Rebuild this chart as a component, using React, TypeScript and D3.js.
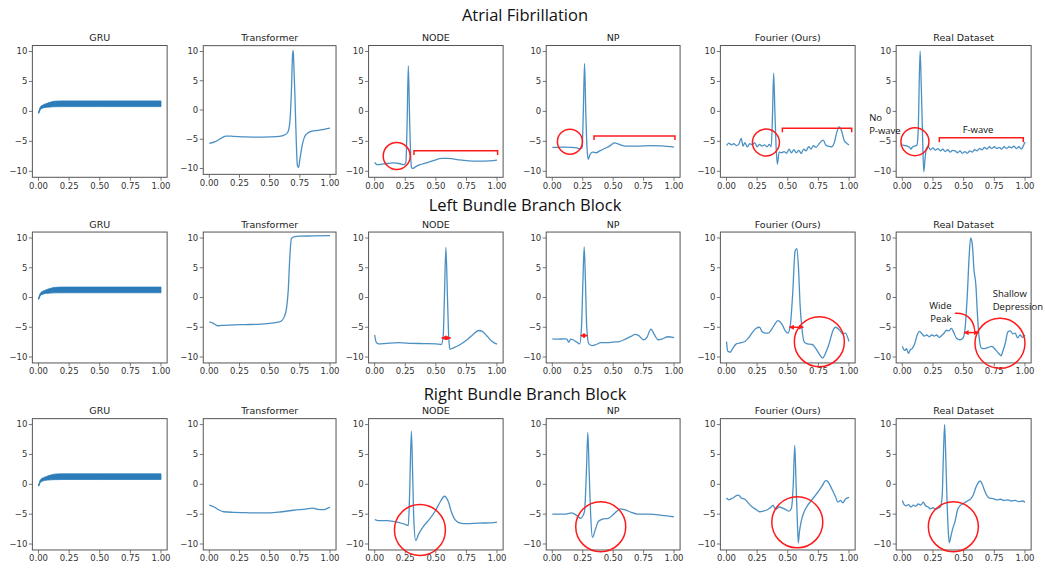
import React from 'react';
import * as d3 from 'd3';

type Pt = [number, number];

const rowTitles = ['Atrial Fibrillation', 'Left Bundle Branch Block', 'Right Bundle Branch Block'];
const modelNames = ['GRU', 'Transformer', 'NODE', 'NP', 'Fourier (Ours)', 'Real Dataset'];
const xTicks = [0, 0.25, 0.5, 0.75, 1];
const yTicks = [-10, -5, 0, 5, 10];

// GRU collapses to the same dense band in all three rows
const gruUpper: Pt[] = [[0, -0.3], [0.01, 0.5], [0.02, 0.85], [0.04, 1.1], [0.07, 1.35], [0.1, 1.55], [0.13, 1.7], [0.2, 1.75], [0.5, 1.75], [1, 1.75]];
const gruLower: Pt[] = [[0, -0.3], [0.01, 0.2], [0.02, 0.5], [0.04, 0.62], [0.07, 0.7], [0.1, 0.75], [0.13, 0.78], [0.2, 0.8], [0.5, 0.8], [1, 0.8]];

// Atrial fibrillation
const afTransformer: Pt[] = [[0, -5.7], [0.05, -5.4], [0.1, -4.8], [0.14, -4.45], [0.2, -4.5], [0.3, -4.6], [0.4, -4.65], [0.5, -4.6], [0.58, -4.5], [0.62, -4.3], [0.65, -3.8], [0.665, -2.5], [0.68, 3], [0.69, 9.5], [0.695, 10.2], [0.7, 8], [0.71, 2], [0.72, -5], [0.73, -9.5], [0.74, -9.8], [0.75, -8.5], [0.77, -6], [0.8, -4.2], [0.85, -3.6], [0.9, -3.5], [0.95, -3.3], [1, -3.1]];
const afNode: Pt[] = [[0, -8.5], [0.02, -8.9], [0.05, -8.85], [0.1, -8.7], [0.15, -8.6], [0.2, -8.7], [0.24, -8.9], [0.255, -8.5], [0.265, -2], [0.275, 7.6], [0.285, -1], [0.3, -9.3], [0.31, -9.55], [0.33, -9.3], [0.37, -8.9], [0.42, -8.6], [0.48, -8.2], [0.55, -7.85], [0.6, -7.85], [0.7, -8.1], [0.8, -8.3], [0.9, -8.3], [1, -8.15]];
const afNp: Pt[] = [[0, -6.0], [0.05, -6.0], [0.1, -5.95], [0.15, -6.0], [0.2, -6.1], [0.23, -6.25], [0.245, -6.0], [0.255, 0], [0.265, 8.0], [0.275, 0], [0.285, -6], [0.295, -8.0], [0.31, -7.2], [0.33, -6.8], [0.36, -6.9], [0.39, -6.6], [0.43, -6.2], [0.47, -5.8], [0.51, -5.25], [0.55, -5.5], [0.6, -5.8], [0.7, -5.8], [0.8, -5.7], [0.9, -5.75], [1, -5.95]];
const afFourier: Pt[] = [[0, -5.7], [0.02, -5.3], [0.04, -5.6], [0.06, -5.4], [0.08, -5.7], [0.1, -5.5], [0.12, -4.5], [0.135, -5.8], [0.15, -5.2], [0.17, -5.9], [0.19, -5.4], [0.21, -5.6], [0.23, -5.2], [0.25, -5.9], [0.27, -5.5], [0.29, -5.8], [0.31, -5.6], [0.33, -5.9], [0.35, -5.5], [0.365, -5.9], [0.375, -1], [0.385, 6.4], [0.395, 0], [0.405, -6], [0.415, -8.8], [0.43, -6.8], [0.45, -6.9], [0.47, -6.7], [0.49, -7.0], [0.51, -6.3], [0.53, -6.9], [0.55, -6.4], [0.57, -6.9], [0.59, -6.5], [0.61, -7.0], [0.63, -6.3], [0.65, -6.6], [0.67, -5.9], [0.69, -6.3], [0.71, -5.7], [0.73, -6.0], [0.76, -5.3], [0.79, -4.8], [0.81, -5.6], [0.83, -5.8], [0.86, -5.9], [0.88, -5.2], [0.9, -3.5], [0.92, -2.6], [0.94, -3.3], [0.96, -4.8], [0.98, -5.3], [1, -5.6]];
const afReal: Pt[] = [[0, -5.6], [0.02, -5.7], [0.04, -5.8], [0.06, -6.0], [0.07, -6.3], [0.085, -5.9], [0.1, -5.8], [0.12, -5.6], [0.13, -3], [0.145, 10.1], [0.155, 4], [0.165, -4], [0.175, -10.1], [0.185, -8], [0.195, -6.2], [0.21, -5.9], [0.23, -6.4], [0.25, -6.1], [0.27, -6.5], [0.29, -6.2], [0.31, -6.6], [0.33, -6.3], [0.35, -6.7], [0.37, -6.4], [0.39, -6.8], [0.41, -6.5], [0.43, -6.6], [0.45, -6.9], [0.47, -6.6], [0.49, -7.0], [0.51, -6.7], [0.53, -7.0], [0.55, -6.6], [0.57, -6.8], [0.59, -6.4], [0.61, -6.6], [0.63, -6.2], [0.65, -6.4], [0.67, -6.0], [0.69, -6.3], [0.71, -5.9], [0.73, -6.2], [0.75, -5.9], [0.77, -6.2], [0.79, -6.0], [0.81, -6.3], [0.83, -5.9], [0.85, -6.2], [0.87, -5.9], [0.89, -6.1], [0.91, -5.8], [0.93, -6.2], [0.95, -5.9], [0.97, -6.3], [0.985, -5.8], [1, -5.1]];

// Left bundle branch block
const lbbbTransformer: Pt[] = [[0, -4.1], [0.03, -4.3], [0.07, -4.75], [0.1, -4.7], [0.2, -4.6], [0.3, -4.55], [0.4, -4.5], [0.5, -4.35], [0.57, -4.15], [0.6, -3.9], [0.62, -3.3], [0.64, -1.8], [0.655, 1.5], [0.665, 6], [0.68, 9.9], [0.7, 10.2], [0.75, 10.3], [0.85, 10.35], [1, 10.4]];
const lbbbNode: Pt[] = [[0, -6.3], [0.012, -7.5], [0.03, -7.8], [0.1, -7.7], [0.2, -7.6], [0.3, -7.7], [0.4, -7.75], [0.5, -7.8], [0.545, -7.9], [0.56, -6.5], [0.57, 0], [0.582, 8.4], [0.595, 0], [0.605, -6.5], [0.615, -8.7], [0.64, -8.5], [0.7, -7.9], [0.75, -7.2], [0.8, -6.3], [0.85, -5.55], [0.88, -5.7], [0.92, -6.5], [0.96, -7.4], [1, -7.85]];
const lbbbNp: Pt[] = [[0, -6.95], [0.05, -7.0], [0.1, -6.95], [0.12, -7.0], [0.135, -7.5], [0.15, -7.0], [0.17, -7.1], [0.2, -7.5], [0.225, -7.8], [0.24, -5], [0.252, 3], [0.262, 8.5], [0.272, 3], [0.283, -5], [0.3, -7.8], [0.33, -8.1], [0.36, -7.9], [0.4, -7.6], [0.45, -7.6], [0.5, -7.5], [0.55, -7.4], [0.6, -7.0], [0.65, -6.5], [0.68, -6.2], [0.71, -6.4], [0.75, -7.1], [0.78, -6.6], [0.81, -5.3], [0.84, -6.3], [0.87, -7.1], [0.9, -7.0], [0.95, -6.6], [1, -6.75]];
const lbbbFourier: Pt[] = [[0, -7.4], [0.01, -9.0], [0.03, -9.2], [0.05, -8.6], [0.08, -7.8], [0.12, -7.6], [0.15, -7.4], [0.18, -6.8], [0.21, -5.9], [0.24, -5.2], [0.27, -5.0], [0.29, -5.7], [0.32, -6.0], [0.34, -6.0], [0.37, -5.3], [0.4, -4.3], [0.42, -3.9], [0.45, -4.4], [0.48, -5.6], [0.5, -6.0], [0.52, -4.8], [0.54, 0.5], [0.56, 7.8], [0.575, 8.2], [0.59, 4], [0.6, -1], [0.615, -5], [0.635, -7.5], [0.66, -7.8], [0.7, -7.9], [0.73, -8.6], [0.76, -9.6], [0.785, -10.2], [0.81, -9.3], [0.84, -7.6], [0.87, -5.5], [0.89, -5.0], [0.92, -5.4], [0.95, -6.1], [0.97, -6.0], [1, -7.4]];
const lbbbReal: Pt[] = [[0, -8.2], [0.02, -8.9], [0.035, -8.6], [0.05, -9.4], [0.065, -8.8], [0.08, -8.6], [0.1, -7.8], [0.12, -6.4], [0.14, -5.7], [0.16, -6.1], [0.18, -6.5], [0.2, -6.3], [0.22, -6.6], [0.24, -6.3], [0.26, -6.5], [0.28, -6.3], [0.3, -6.7], [0.32, -6.4], [0.34, -6.0], [0.36, -5.5], [0.38, -5.6], [0.4, -5.2], [0.42, -5.9], [0.44, -6.8], [0.47, -7.1], [0.495, -6.8], [0.51, -5.5], [0.53, 0.5], [0.545, 7], [0.557, 10], [0.57, 9], [0.585, 4.5], [0.6, 2], [0.61, -2], [0.625, -6.5], [0.645, -8.5], [0.67, -8.6], [0.7, -8.4], [0.73, -8.2], [0.76, -8.8], [0.79, -9.5], [0.805, -9.8], [0.82, -9.0], [0.84, -7.6], [0.86, -5.8], [0.88, -5.6], [0.9, -6.1], [0.92, -6.0], [0.94, -6.8], [0.96, -6.3], [0.98, -6.7], [1, -6.3]];

// Right bundle branch block
const rbbbTransformer: Pt[] = [[0, -3.5], [0.04, -3.8], [0.08, -4.3], [0.12, -4.6], [0.2, -4.7], [0.3, -4.75], [0.4, -4.8], [0.5, -4.8], [0.6, -4.6], [0.7, -4.35], [0.8, -4.15], [0.86, -4.0], [0.9, -4.2], [0.94, -4.25], [0.97, -4.1], [1, -3.8]];
const rbbbNode: Pt[] = [[0, -5.9], [0.03, -6.1], [0.1, -6.1], [0.15, -6.2], [0.2, -6.4], [0.25, -6.7], [0.275, -6.9], [0.285, -2], [0.3, 8.9], [0.31, 2], [0.32, -6], [0.335, -9.4], [0.36, -8.3], [0.4, -7.0], [0.45, -5.8], [0.5, -4.3], [0.54, -2.8], [0.57, -2.0], [0.6, -2.8], [0.63, -4.8], [0.66, -6.0], [0.7, -6.5], [0.75, -6.6], [0.85, -6.5], [0.95, -6.45], [1, -6.35]];
const rbbbNp: Pt[] = [[0, -5.0], [0.05, -5.0], [0.1, -5.0], [0.16, -4.8], [0.2, -5.2], [0.235, -5.7], [0.25, -5.3], [0.265, -4.5], [0.28, 2], [0.292, 8.7], [0.303, 2], [0.315, -5], [0.33, -8.9], [0.35, -7.8], [0.38, -6.2], [0.42, -5.8], [0.46, -5.7], [0.5, -5.1], [0.53, -4.5], [0.56, -4.1], [0.6, -4.3], [0.65, -4.7], [0.7, -5.0], [0.8, -5.0], [0.9, -5.2], [1, -5.45]];
const rbbbFourier: Pt[] = [[0, -2.3], [0.02, -2.6], [0.04, -2.4], [0.06, -2.2], [0.08, -1.9], [0.1, -1.8], [0.12, -2.3], [0.15, -2.5], [0.18, -3.2], [0.21, -3.8], [0.24, -4.2], [0.27, -4.6], [0.3, -4.5], [0.33, -4.3], [0.36, -3.9], [0.38, -3.5], [0.4, -4.2], [0.43, -3.8], [0.46, -4.0], [0.49, -4.3], [0.51, -4.5], [0.53, -4.0], [0.545, 0], [0.557, 6.5], [0.568, 0], [0.578, -6], [0.586, -9.8], [0.595, -8], [0.61, -6.2], [0.63, -4.8], [0.66, -3.6], [0.69, -2.8], [0.72, -2.0], [0.75, -1.2], [0.78, -0.3], [0.81, 0.6], [0.83, 0.4], [0.86, -0.8], [0.89, -2.1], [0.91, -3.0], [0.93, -2.7], [0.95, -3.1], [0.97, -2.5], [1, -2.2]];
const rbbbReal: Pt[] = [[0, -2.7], [0.015, -3.4], [0.03, -3.6], [0.05, -3.4], [0.07, -3.8], [0.09, -3.5], [0.11, -3.7], [0.13, -3.3], [0.15, -3.5], [0.17, -3.0], [0.19, -3.6], [0.21, -3.8], [0.23, -4.1], [0.25, -3.9], [0.27, -4.2], [0.29, -4.0], [0.31, -3.8], [0.325, -2], [0.335, 5], [0.345, 10], [0.355, 4], [0.365, -3], [0.375, -8], [0.383, -9.8], [0.395, -8.8], [0.41, -7.5], [0.43, -6.2], [0.45, -4.3], [0.47, -3.6], [0.5, -3.2], [0.53, -2.8], [0.56, -2.4], [0.58, -1.7], [0.6, -0.5], [0.62, 0.3], [0.635, 0.55], [0.65, 0.1], [0.67, -1.0], [0.69, -1.9], [0.71, -2.3], [0.74, -2.4], [0.77, -2.6], [0.8, -2.5], [0.83, -2.7], [0.86, -2.6], [0.89, -2.8], [0.92, -2.7], [0.95, -2.9], [0.98, -2.8], [1, -3.0]];

// red call-outs, placed in each panel's data coordinates
type Note =
  | { kind: 'circle'; x: number; y: number; r: number }
  | { kind: 'bracket'; x0: number; x1: number; y: number; y2: number }
  | { kind: 'arrow'; x0: number; x1: number; y: number }
  | { kind: 'curve'; pts: Pt[] }
  | { kind: 'text'; x: number; y: number; text: string; anchor: string };

const afNodeNotes: Note[] = [
  { kind: 'circle', x: 0.18, y: -7.43, r: 13.5 },
  { kind: 'bracket', x0: 0.321, x1: 1.005, y: -6.55, y2: -7.27 },
];
const afNpNotes: Note[] = [
  { kind: 'circle', x: 0.145, y: -5.05, r: 12.5 },
  { kind: 'bracket', x0: 0.343, x1: 1.008, y: -4.1, y2: -4.77 },
];
const afFourierNotes: Note[] = [
  { kind: 'circle', x: 0.322, y: -5.2, r: 13.5 },
  { kind: 'bracket', x0: 0.456, x1: 1.022, y: -2.82, y2: -3.49 },
];
const afRealNotes: Note[] = [
  { kind: 'circle', x: 0.103, y: -5.05, r: 14 },
  { kind: 'bracket', x0: 0.302, x1: 0.986, y: -4.38, y2: -5.15 },
  { kind: 'text', x: -0.27, y: -1.1, text: 'No', anchor: 'start' },
  { kind: 'text', x: -0.27, y: -3.2, text: 'P-wave', anchor: 'start' },
  { kind: 'text', x: 0.617, y: -3.1, text: 'F-wave', anchor: 'middle' },
];
const lbbbNodeNotes: Note[] = [{ kind: 'arrow', x0: 0.548, x1: 0.621, y: -6.8 }];
const lbbbNpNotes: Note[] = [{ kind: 'arrow', x0: 0.233, x1: 0.288, y: -6.4 }];
const lbbbFourierNotes: Note[] = [
  { kind: 'arrow', x0: 0.513, x1: 0.627, y: -5.0 },
  { kind: 'circle', x: 0.758, y: -7.43, r: 25 },
];
const lbbbRealNotes: Note[] = [
  { kind: 'arrow', x0: 0.503, x1: 0.622, y: -5.9 },
  { kind: 'circle', x: 0.796, y: -7.7, r: 25 },
  { kind: 'curve', pts: [[0.427, -2.66], [0.53, -2.5], [0.58, -3.8], [0.59, -5.5]] },
  { kind: 'text', x: 0.31, y: -1.43, text: 'Wide', anchor: 'middle' },
  { kind: 'text', x: 0.315, y: -3.5, text: 'Peak', anchor: 'middle' },
  { kind: 'text', x: 0.737, y: 0.59, text: 'Shallow', anchor: 'start' },
  { kind: 'text', x: 0.737, y: -1.55, text: 'Depression', anchor: 'start' },
];
const rbbbNodeNotes: Note[] = [{ kind: 'circle', x: 0.37, y: -7.65, r: 25.5 }];
const rbbbNpNotes: Note[] = [{ kind: 'circle', x: 0.398, y: -7.1, r: 25 }];
const rbbbFourierNotes: Note[] = [{ kind: 'circle', x: 0.578, y: -6.37, r: 25.5 }];
const rbbbRealNotes: Note[] = [{ kind: 'circle', x: 0.416, y: -7.1, r: 25 }];

const rowSeries: (Pt[] | null)[][] = [
  [null, afTransformer, afNode, afNp, afFourier, afReal],
  [null, lbbbTransformer, lbbbNode, lbbbNp, lbbbFourier, lbbbReal],
  [null, rbbbTransformer, rbbbNode, rbbbNp, rbbbFourier, rbbbReal],
];
const rowNotes: Note[][][] = [
  [[], [], afNodeNotes, afNpNotes, afFourierNotes, afRealNotes],
  [[], [], lbbbNodeNotes, lbbbNpNotes, lbbbFourierNotes, lbbbRealNotes],
  [[], [], rbbbNodeNotes, rbbbNpNotes, rbbbFourierNotes, rbbbRealNotes],
];

// layout: pixel of x=0 / x=1 per column, pixel of y=10 / y=-10 per row
const W = 1045;
const H = 569;
const colPx: Pt[] = [[38.5, 161], [209.3, 330], [374.7, 497], [552.3, 674], [726.5, 849], [902.3, 1025]];
const rowPx: Pt[] = [[51.5, 171.3], [238, 357], [424.6, 544]];
const rowTitleY = [15, 205, 394];
const LINE = '#2b7cb8';
const RED = '#ff1a1a';
const tickFont = '"DejaVu Sans", sans-serif';
const noteFont = '"Open Sans", "Liberation Sans", sans-serif';

const fmtY = (v: number) => (v < 0 ? '\u2212' + Math.abs(v) : String(v));

function Panel({ row, col }: { row: number; col: number }) {
  const x = d3.scaleLinear().domain([0, 1]).range(colPx[col]);
  const yr = row === 0 && col === 1 ? ([51.5, 168.5] as Pt) : rowPx[row];
  const y = d3.scaleLinear().domain([10, -10]).range(yr);
  const left = x(-0.05);
  const right = x(1.05);
  const top = y(11);
  const bottom = y(-11);
  const data = rowSeries[row][col];
  const notes = rowNotes[row][col];
  const line = d3.line<Pt>().x((d) => x(d[0])).y((d) => y(d[1])).curve(d3.curveMonotoneX);
  const band = d3
    .area<Pt>()
    .x((d) => x(d[0]))
    .y0((d, i) => y(gruLower[i][1]))
    .y1((d) => y(d[1]))
    .curve(d3.curveMonotoneX);

  return (
    <g>
      <text x={(left + right) / 2} y={top - 4.5} textAnchor="middle" fontSize={9.5} fill="#222" fontFamily={tickFont}>
        {modelNames[col]}
      </text>
      {data ? (
        <path d={line(data) || ''} fill="none" stroke={LINE} strokeWidth={1.3} strokeOpacity={0.85} />
      ) : (
        <g>
          <path d={band(gruUpper) || ''} fill={LINE} stroke={LINE} strokeWidth={0.8} />
          <path d={line(gruLower.slice(0, 4)) || ''} fill="none" stroke={LINE} strokeWidth={1.2} />
        </g>
      )}
      <rect x={left} y={top} width={right - left} height={bottom - top} fill="none" stroke="#555" strokeWidth={1} />
      {xTicks.map((t) => (
        <g key={'x' + t}>
          <line x1={x(t)} x2={x(t)} y1={bottom} y2={bottom + 3.5} stroke="#555" strokeWidth={0.8} />
          <text x={x(t)} y={bottom + 11.5} textAnchor="middle" fontSize={8.5} fill="#333" fontFamily={tickFont}>
            {t.toFixed(2)}
          </text>
        </g>
      ))}
      {yTicks.map((t) => (
        <g key={'y' + t}>
          <line x1={left - 3.5} x2={left} y1={y(t)} y2={y(t)} stroke="#555" strokeWidth={0.8} />
          <text x={left - 5} y={y(t)} dy="0.34em" textAnchor="end" fontSize={8.5} fill="#333" fontFamily={tickFont}>
            {fmtY(t)}
          </text>
        </g>
      ))}
      {notes.map((n, i) => {
        if (n.kind === 'circle')
          return <circle key={i} cx={x(n.x)} cy={y(n.y)} r={n.r} fill="none" stroke={RED} strokeWidth={1.5} />;
        if (n.kind === 'bracket') {
          const d = `M${x(n.x0)},${y(n.y2)}V${y(n.y)}H${x(n.x1)}V${y(n.y2)}`;
          return <path key={i} d={d} fill="none" stroke={RED} strokeWidth={1.5} />;
        }
        if (n.kind === 'arrow')
          return (
            <line key={i} x1={x(n.x0)} x2={x(n.x1)} y1={y(n.y)} y2={y(n.y)} stroke={RED} strokeWidth={1.5}
              markerStart="url(#head)" markerEnd="url(#head)" />
          );
        if (n.kind === 'curve') {
          const p = n.pts.map((q) => [x(q[0]), y(q[1])]);
          const d = `M${p[0]}C${p[1]} ${p[2]} ${p[3]}`;
          return <path key={i} d={d} fill="none" stroke={RED} strokeWidth={1.4} />;
        }
        return (
          <text key={i} x={x(n.x)} y={y(n.y)} dy="0.35em" textAnchor={n.anchor} fontSize={9.5} fill="#111" fontFamily={noteFont}>
            {n.text}
          </text>
        );
      })}
    </g>
  );
}

export default function App() {
  return (
    <svg width={W} height={H} viewBox={`0 0 ${W} ${H}`} style={{ position: 'absolute', left: 0, top: 0, background: '#fff' }}>
      <defs>
        <marker id="head" viewBox="0 0 6 6" refX={5.5} refY={3} markerWidth={5} markerHeight={5}
          markerUnits="userSpaceOnUse" orient="auto-start-reverse">
          <path d="M0,0L6,3L0,6z" fill={RED} />
        </marker>
      </defs>
      <rect width={W} height={H} fill="#fff" />
      {rowTitles.map((t, r) => (
        <text key={t} x={525} y={rowTitleY[r]} dy="0.35em" textAnchor="middle" fontSize={16.5} fill="#111" fontFamily={noteFont}>
          {t}
        </text>
      ))}
      {rowTitles.map((_, r) => modelNames.map((_, c) => <Panel key={r + '-' + c} row={r} col={c} />))}
    </svg>
  );
}
